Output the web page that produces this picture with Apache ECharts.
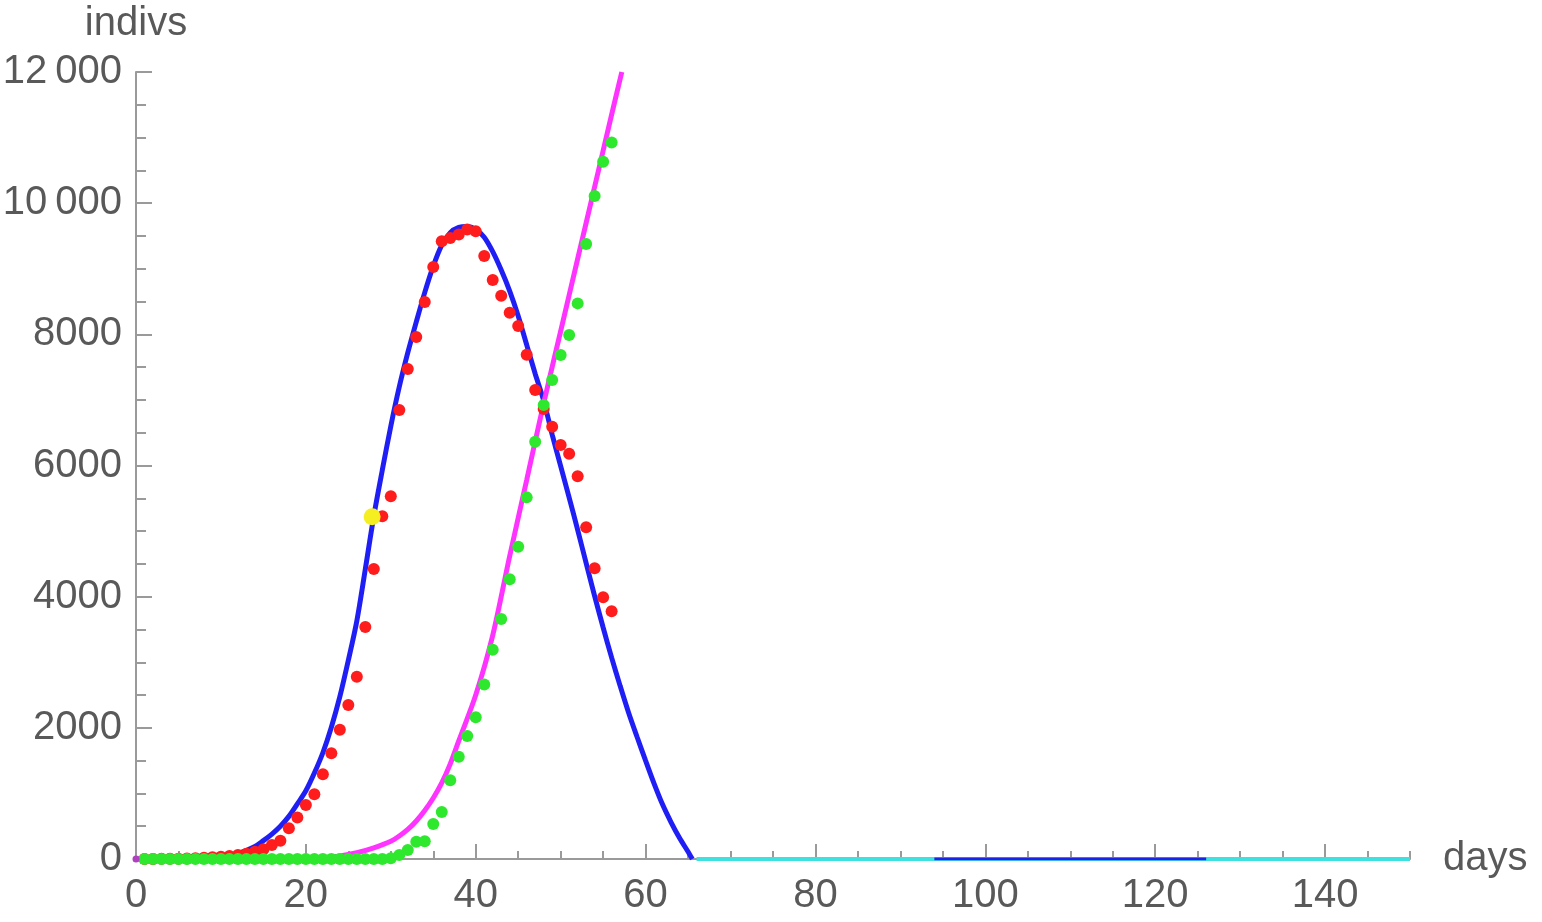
<!DOCTYPE html>
<html>
<head>
<meta charset="utf-8">
<script src="https://cdn.jsdelivr.net/npm/echarts@6/dist/echarts.min.js"></script>
<style>
html,body{margin:0;padding:0;background:#fff;}
#chart{width:1542px;height:922px;}
</style>
</head>
<body>
<div id="chart"></div>
<script>
// ---- data ----
const xMajorTicks = [0, 20, 40, 60, 80, 100, 120, 140];
const xTickLabels = ['0', '20', '40', '60', '80', '100', '120', '140'];
const yTickValues = [0, 2000, 4000, 6000, 8000, 10000, 12000];
const yTickLabels = ['0', '2000', '4000', '6000', '8000', '10\u2009000', '12\u2009000'];

const days = [1,2,3,4,5,6,7,8,9,10,11,12,13,14,15,16,17,18,19,20,21,22,23,24,25,26,27,28,
  29,30,31,32,33,34,35,36,37,38,39,40,41,42,43,44,45,46,47,48,49,50,51,52,53,54,55,56];
const redValues = [0,1,2,3,5,8,12,18,25,35,45,60,80,110,150,213,280,468,632,823,986,1293,1611,1972,2348,2778,3538,4422,
  5225,5530,6847,7472,7960,8493,9027,9418,9467,9522,9600,9570,9195,8830,8590,8328,8127,7690,7152,6860,6590,6313,6180,5835,5060,4435,3992,3776];
const greenValues = [0,0,0,0,0,0,0,0,0,0,0,0,0,0,0,0,0,0,0,0,0,0,0,0,0,0,0,0,
  0,10,61,137,264,270,534,716,1200,1558,1876,2163,2660,3190,3660,4265,4762,5514,6363,6923,7304,7685,7990,8472,9378,10110,10633,10926];

const blueX = [0,4,8,10,12,14,15,16,17,18,19,20,21,22,23,24,25,26,27,28,29,30,31,32,33,34,35,36,37,38,39,
  40,41,42,43,44,45,46,47,48,49,50,51,52,53,54,55,56,57,58,59,60,61,62,63,64,65,65.5];
const blueY = [0,2,12,30,80,190,280,380,500,650,840,1040,1310,1620,2010,2475,3030,3630,4420,5230,5930,6600,7200,7720,8190,8640,9040,9360,9550,9630,9645,
  9600,9480,9260,8980,8660,8280,7840,7400,6990,6470,5990,5510,5020,4510,4010,3530,3070,2640,2230,1860,1500,1150,830,560,320,110,0];

const magentaX = [0,10,16,20,22,24,26,28,30,31,32,33,34,35,36,37,38,40,42,44,46,48,50,52,54,56,57.2];
const magentaY = [0,0,3,10,20,45,95,170,270,350,450,580,740,930,1160,1450,1800,2500,3410,4620,5780,6950,8050,9150,10250,11350,12000];

const yellowPoint = [27.8, 5220];
const cyanX = [66, 150];
const cyanY = [0, 0];
const blueBaseX = [94, 126];
const blueBaseY = [0, 0];
const originPoint = [0, 0];

const zip = (a, b) => a.map((v, i) => [v, b[i]]);

const axisGray = '#9a9a9a';
const labelGray = '#595959';
const font = 'Liberation Sans, Arial, sans-serif';

const chart = echarts.init(document.getElementById('chart'), null, {renderer: 'canvas'});
chart.setOption({
  animation: false,
  backgroundColor: '#ffffff',
  grid: {left: 136, right: 132, top: 72, bottom: 63, containLabel: false, outerBoundsMode: 'none'},
  xAxis: [
    {
      type: 'value', min: 0, max: 150, interval: 5,
      axisLine: {show: true, onZero: false, lineStyle: {color: axisGray, width: 2}},
      axisTick: {show: true, inside: true, length: 8, lineStyle: {color: axisGray, width: 2}},
      axisLabel: {show: false},
      splitLine: {show: false}
    },
    {
      type: 'value', min: 0, max: 150, position: 'bottom', offset: 0,
      axisLine: {show: false},
      axisTick: {show: true, inside: true, length: 15, customValues: xMajorTicks, lineStyle: {color: axisGray, width: 2}},
      axisLabel: {show: true, customValues: xMajorTicks, margin: 17, color: labelGray, fontSize: 40, fontFamily: font,
        formatter: v => xTickLabels[xMajorTicks.indexOf(v)] ?? ''},
      splitLine: {show: false},
      name: 'days', nameLocation: 'end', nameGap: 33,
      nameTextStyle: {color: labelGray, fontSize: 40, fontFamily: font, align: 'left', verticalAlign: 'middle'}
    }
  ],
  yAxis: [
    {
      type: 'value', min: 0, max: 12000, interval: 500,
      axisLine: {show: true, onZero: false, lineStyle: {color: axisGray, width: 2}},
      axisTick: {show: true, inside: true, length: 10, lineStyle: {color: axisGray, width: 2}},
      axisLabel: {show: false},
      splitLine: {show: false}
    },
    {
      type: 'value', min: 0, max: 12000, position: 'left', offset: 0,
      axisLine: {show: false},
      axisTick: {show: true, inside: true, length: 16, customValues: yTickValues, lineStyle: {color: axisGray, width: 2}},
      axisLabel: {show: true, customValues: yTickValues, margin: 14, color: labelGray, fontSize: 40, fontFamily: font,
        formatter: v => yTickLabels[yTickValues.indexOf(v)] ?? ''},
      splitLine: {show: false},
      name: 'indivs', nameLocation: 'end', nameGap: 48,
      nameTextStyle: {color: labelGray, fontSize: 40, fontFamily: font, align: 'center', verticalAlign: 'middle'}
    }
  ],
  series: [
    {
      type: 'line', data: zip(cyanX, cyanY), showSymbol: false, z: 2,
      lineStyle: {color: '#3fe0e0', width: 4}
    },
    {
      type: 'line', data: zip(blueBaseX, blueBaseY), showSymbol: false, z: 3,
      lineStyle: {color: '#2020e8', width: 3}
    },
    {
      type: 'line', data: zip(blueX, blueY), showSymbol: false, smooth: 0.3, z: 3,
      lineStyle: {color: '#1f1ff5', width: 5}
    },
    {
      type: 'line', data: zip(magentaX, magentaY), showSymbol: false, smooth: 0.3, z: 3,
      lineStyle: {color: '#ff33ff', width: 5}
    },
    {
      type: 'scatter', data: zip(days, redValues), symbolSize: 12, z: 4,
      itemStyle: {color: '#ff1c1c', opacity: 1}
    },
    {
      type: 'scatter', data: zip(days, greenValues), symbolSize: 12, z: 5,
      itemStyle: {color: '#2ee82e', opacity: 1}
    },
    {
      type: 'scatter', data: [yellowPoint], symbolSize: 17, z: 6,
      itemStyle: {color: '#f5ee20', opacity: 1}
    },
    {
      type: 'scatter', data: [originPoint], symbolSize: 7, z: 6,
      itemStyle: {color: '#b040c0', opacity: 1}
    }
  ]
});
</script>
</body>
</html>
